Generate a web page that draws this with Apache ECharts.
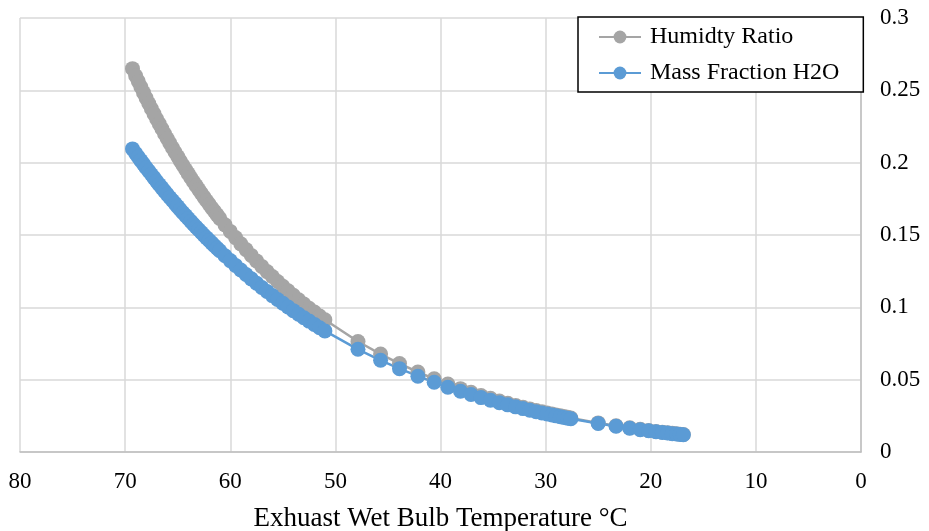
<!DOCTYPE html>
<html>
<head>
<meta charset="utf-8">
<script src="https://cdn.jsdelivr.net/npm/echarts@6/dist/echarts.min.js"></script>
<style>
  html, body { margin: 0; padding: 0; background: #fff; }
  #chart { width: 929px; height: 531px; }
</style>
</head>
<body>
<div id="chart"></div>
<script>
// Exhaust wet bulb temperature (°C) for each sample point
const wetBulbTemps = [
  69.3, 69.0, 68.75, 68.5, 68.25, 68.0, 67.75, 67.5, 67.25, 67.0,
  66.75, 66.5, 66.25, 66.0, 65.75, 65.5, 65.25, 65.0, 64.75, 64.5,
  64.25, 64.0, 63.75, 63.5, 63.25, 63.0, 62.75, 62.5, 62.25, 62.0,
  61.75, 61.5, 61.25, 61.0, 60.5, 60.0, 59.5, 59.0, 58.5, 58.0,
  57.5, 57.0, 56.5, 56.0, 55.5, 55.0, 54.5, 54.0, 53.5, 53.0,
  52.5, 52.0, 51.5, 51.0,
  47.85, 45.7, 43.9, 42.15, 40.6, 39.3, 38.1, 37.1, 36.15, 35.25,
  34.4, 33.6, 32.85, 32.15, 31.5, 30.9, 30.35, 29.85, 29.4, 29.0,
  28.6, 28.25, 27.9, 27.6,
  25.0, 23.3, 22.0, 21.0, 20.2, 19.5, 18.9, 18.4, 17.95, 17.55,
  17.2, 16.9
];

// Humidity ratio (kg water / kg dry air)
const humidityRatio = [
  0.2650, 0.2601, 0.2562, 0.2523, 0.2484, 0.2446, 0.2409, 0.2373, 0.2337, 0.2302,
  0.2268, 0.2234, 0.2200, 0.2167, 0.2135, 0.2103, 0.2072, 0.2042, 0.2012, 0.1982,
  0.1953, 0.1924, 0.1896, 0.1868, 0.1841, 0.1814, 0.1788, 0.1762, 0.1737, 0.1712,
  0.1687, 0.1663, 0.1639, 0.1615, 0.1570, 0.1525, 0.1482, 0.1439, 0.1399, 0.1359,
  0.1321, 0.1283, 0.1247, 0.1213, 0.1179, 0.1146, 0.1114, 0.1083, 0.1052, 0.1023,
  0.0994, 0.0967, 0.0940, 0.0914,
  0.0764, 0.0677, 0.0611, 0.0553, 0.0506, 0.0470, 0.0438, 0.0413, 0.0391, 0.0371,
  0.0353, 0.0337, 0.0322, 0.0309, 0.0298, 0.0287, 0.0278, 0.0270, 0.0262, 0.0256,
  0.0250, 0.0245, 0.0240, 0.0235,
  0.0201, 0.0181, 0.0167, 0.0157, 0.0149, 0.0142, 0.0137, 0.0133, 0.0129, 0.0126,
  0.0123, 0.0121
];

// Mass fraction of H2O in the exhaust
const massFractionH2O = [
  0.2095, 0.2064, 0.2039, 0.2014, 0.1990, 0.1965, 0.1942, 0.1918, 0.1895, 0.1871,
  0.1848, 0.1826, 0.1803, 0.1781, 0.1759, 0.1738, 0.1717, 0.1696, 0.1675, 0.1654,
  0.1634, 0.1614, 0.1594, 0.1574, 0.1555, 0.1536, 0.1517, 0.1498, 0.1480, 0.1462,
  0.1444, 0.1426, 0.1408, 0.1391, 0.1357, 0.1323, 0.1290, 0.1258, 0.1227, 0.1197,
  0.1167, 0.1137, 0.1109, 0.1081, 0.1054, 0.1028, 0.1002, 0.0977, 0.0952, 0.0928,
  0.0905, 0.0882, 0.0859, 0.0837,
  0.0710, 0.0634, 0.0576, 0.0524, 0.0482, 0.0448, 0.0420, 0.0397, 0.0376, 0.0358,
  0.0341, 0.0326, 0.0312, 0.0300, 0.0289, 0.0279, 0.0270, 0.0263, 0.0256, 0.0250,
  0.0244, 0.0239, 0.0234, 0.0230,
  0.0197, 0.0178, 0.0164, 0.0154, 0.0147, 0.0140, 0.0135, 0.0131, 0.0127, 0.0124,
  0.0121, 0.0119
];

const seriesNames = ['Humidty Ratio', 'Mass Fraction H2O'];
const seriesColors = ['#A5A5A5', '#5B9BD5'];
const axisTitle = 'Exhuast Wet Bulb Temperature °C';

const pairs = (ys) => wetBulbTemps.map((t, i) => [t, ys[i]]);
const FONT = '"Liberation Serif", "Times New Roman", serif';

const chart = echarts.init(document.getElementById('chart'), null, { renderer: 'canvas' });

function makeSeries(name, color, ys) {
  return {
    name: name,
    type: 'line',
    data: pairs(ys),
    symbol: 'circle',
    symbolSize: 15,
    showSymbol: true,
    itemStyle: { color: color },
    lineStyle: { color: color, width: 2.5 },
    emphasis: { disabled: true },
    animation: false
  };
}

chart.setOption({
  animation: false,
  grid: { left: 20, right: 68, top: 18, bottom: 79, containLabel: false, outerBoundsMode: 'none' },
  legend: {
    data: seriesNames,
    orient: 'vertical',
    left: 578,
    top: 17,
    padding: [8, 24, 7, 20],
    itemGap: 12,
    itemWidth: 42,
    itemHeight: 16,
    borderColor: '#000',
    borderWidth: 1.5,
    backgroundColor: '#fff',
    textStyle: { fontFamily: FONT, fontSize: 24, color: '#000', padding: [0, 0, 0, 4] }
  },
  xAxis: {
    type: 'value',
    min: 0,
    max: 80,
    interval: 10,
    inverse: true,
    name: axisTitle,
    nameLocation: 'middle',
    nameGap: 53,
    nameTextStyle: { fontFamily: FONT, fontSize: 27, color: '#000' },
    axisLine: { show: true, lineStyle: { color: '#BFBFBF', width: 1.5 } },
    axisTick: { show: false },
    axisLabel: { fontFamily: FONT, fontSize: 23, color: '#000', margin: 18 },
    splitLine: { show: true, lineStyle: { color: '#D9D9D9', width: 1.5 } }
  },
  yAxis: {
    type: 'value',
    position: 'right',
    min: 0,
    max: 0.3,
    interval: 0.05,
    axisLine: { show: true, lineStyle: { color: '#BFBFBF', width: 1.5 } },
    axisTick: { show: false },
    axisLabel: { fontFamily: FONT, fontSize: 23, color: '#000', margin: 19 },
    splitLine: { show: true, lineStyle: { color: '#D9D9D9', width: 1.5 } }
  },
  series: [
    makeSeries(seriesNames[0], seriesColors[0], humidityRatio),
    makeSeries(seriesNames[1], seriesColors[1], massFractionH2O)
  ]
});
</script>
</body>
</html>
